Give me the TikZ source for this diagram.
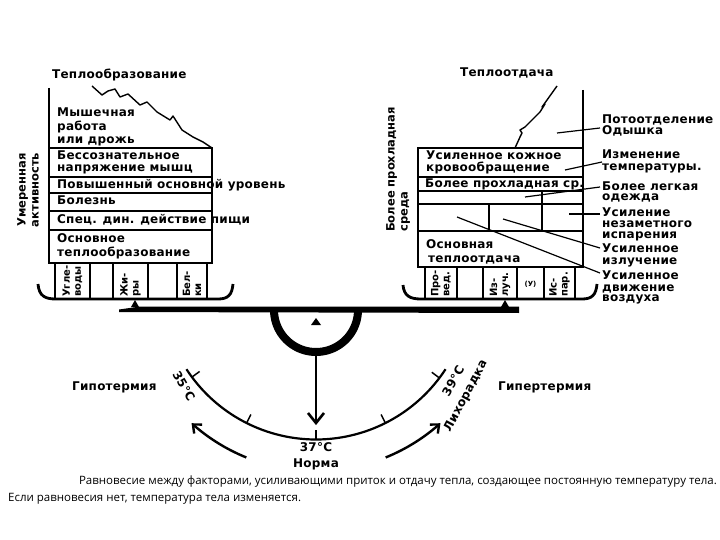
\documentclass[tikz,border=0pt]{standalone}
\usepackage{fontspec}
\setmainfont{DejaVu Sans}
\newfontfamily\capfont{Open Sans}
\usetikzlibrary{arrows.meta}
\begin{document}
\begin{tikzpicture}[x=1pt,y=-1pt,
  frame/.style={line width=1.6pt},
  leader/.style={line width=1.2pt},
  txt/.style={font=\bfseries\fontsize{12}{13}\selectfont\addfontfeature{LetterSpace=2}, inner sep=0pt, anchor=base west},
  coltxt/.style={font=\bfseries\fontsize{10}{11}\selectfont, inner sep=0pt, rotate=90, anchor=west, align=left},
  side/.style={font=\bfseries\fontsize{11.5}{13}\selectfont, inner sep=0pt, rotate=90},
  bracket/.style={line width=2.8pt},
  capt/.style={font=\capfont\fontsize{11.5}{13}\selectfont, inner sep=0pt}
]
\useasboundingbox (0,0) rectangle (720,540);

% ---------------- left pan ----------------
\node[txt] (tlh) at (52,79) {Теплообразование};
\draw[frame] (49,88) -- (49,263) -- (212,263) -- (212,148) -- (49,148);
\foreach \y in {177,193,211,230} \draw[frame] (49,\y) -- (212,\y);
\draw[line width=1.4pt, line join=round] (92,86) -- (102,95) -- (108,91) -- (115,89) -- (120,97) -- (128,94) -- (140,105) -- (147,102) -- (157,112) -- (170,120) -- (173,116) -- (182,130) -- (193,137) -- (203,142) -- (212,148);
\node[txt] (l1a) at (57,117) {Мышечная};
\node[txt] (l1b) at (57,131) {работа};
\node[txt] (l1c) at (57,144) {или дрожь};
\node[txt] (l2a) at (57,160) {Бессознательное};
\node[txt] (l2b) at (57,172) {напряжение  мышц};
\node[txt] (l3) at (57,189) {Повышенный основной уровень};
\node[txt] (l4) at (57,205) {Болезнь};
\node[txt] (l5) at (57,223) {Спец. дин. действие пищи};
\node[txt] (l6a) at (57,242) {Основное};
\node[txt] (l6b) at (57,256) {теплообразование};
\foreach \a/\b in {55/90,90/113,113/148,148/177,177/207} \draw[frame] (\a,263) rectangle (\b,299);
\node[coltxt] (c1) at (72.5,297) {Угле-\\воды};
\node[coltxt] (c2) at (130.5,297) {Жи-\\ры};
\node[coltxt] (c3) at (192,297) {Бел-\\ки};
\draw[bracket] (38,284) .. controls (39,296) and (45,299) .. (56,299) -- (218,299) .. controls (228,299) and (232,295) .. (233,284);
\node[side, align=center] (sl) at (28,190) {Умеренная\\активность};

% ---------------- right pan ----------------
\node[txt] (trh) at (460,77) {Теплоотдача};
\draw[frame] (583,90) -- (583,267) -- (418,267) -- (418,148) -- (583,148);
\foreach \y in {177,191,204,231} \draw[frame] (418,\y) -- (583,\y);
\draw[frame] (542,191) -- (542,231);
\draw[frame] (489,204) -- (489,231);
\draw[line width=1.4pt, line join=round] (557,86) -- (542,107) -- (545,104) -- (540,112) -- (525,127) -- (520,130) -- (522,133) -- (520,137) -- (515,148);
\node[txt] (r1a) at (426,160) {Усиленное кожное};
\node[txt] (r1b) at (426,172) {кровообращение};
\node[txt] (r2) at (425,188) {Более прохладная ср.};
\node[txt] (r3a) at (426,248) {Основная};
\node[txt] (r3b) at (428,262) {теплоотдача};
\foreach \a/\b in {425/457,457/483,483/517,517/544,544/575} \draw[frame] (\a,267) rectangle (\b,299);
\node[coltxt] (d1) at (441,297) {Про-\\вед.};
\node[coltxt] (d2) at (500,297) {Из-\\луч.};
\node[font=\bfseries\fontsize{7}{8}\selectfont, inner sep=0pt] (d3) at (530.5,284) {(У)};
\node[coltxt] (d4) at (559.5,297) {Ис-\\пар.};
\draw[bracket] (403,285) .. controls (404,296) and (410,299) .. (421,299) -- (582,299) .. controls (592,299) and (596,295) .. (597,284);
\node[side, align=left, anchor=west] (sr) at (398,232) {Более прохладная\\среда};

% right labels and leaders
\node[txt] (p1a) at (602,124) {Потоотделение};
\node[txt] (p1b) at (602,135) {Одышка};
\node[txt] (p2a) at (602,159) {Изменение};
\node[txt] (p2b) at (602,171) {температуры.};
\node[txt] (p3a) at (602,191) {Более легкая};
\node[txt] (p3b) at (602,201) {одежда};
\node[txt] (p4a) at (602,216) {Усиление};
\node[txt] (p4b) at (602,227) {незаметного};
\node[txt] (p4c) at (602,238) {испарения};
\node[txt] (p5a) at (602,252) {Усиленное};
\node[txt] (p5b) at (602,264) {излучение};
\node[txt] (p6a) at (602,279) {Усиленное};
\node[txt] (p6b) at (602,291) {движение};
\node[txt] (p6c) at (602,301) {воздуха};
\draw[leader] (557,133) -- (600,128);
\draw[leader] (565,170) -- (602,162);
\draw[leader] (525,197) -- (600,187);
\draw[leader] (569,214) -- (600,214);
\draw[leader] (503,219) -- (600,248);
\draw[leader] (457,217) -- (600,273);

% ---------------- beam ----------------
\fill (135,300) -- (131,307) -- (139,307) -- cycle;
\fill (505,300) -- (501,307) -- (509,307) -- cycle;
\fill (119,309.5) -- (140,306.5) -- (519,306.5) -- (519,313) -- (119,312) -- cycle;
\draw[line width=8pt] plot[domain=0:180,samples=50] ({316+42*cos(\x)},{310+42*sin(\x)});
\fill (316,318) -- (311,325) -- (321,325) -- cycle;
\draw[line width=2.6pt] (316,352) -- (316,422);
\draw[line width=2.6pt, line join=miter] (308,413) -- (316,423) -- (324,413);

% ---------------- gauge ----------------
\draw[line width=2.2pt] plot[domain=33:147,samples=90] ({316+154.5*cos(\x)},{285+154.5*sin(\x)});
\foreach \a in {37,63.3,90,116.7,143.4}
  \draw[line width=1.5pt] ({316+154.5*cos(\a)},{285+154.5*sin(\a)}) -- ({316+145*cos(\a)},{285+145*sin(\a)});
\draw[line width=2.4pt, -{Straight Barb[length=7pt,width=12pt]}] plot[domain=112:132,samples=20] ({316+186*cos(\x)},{285+186*sin(\x)});
\draw[line width=2.4pt, -{Straight Barb[length=7pt,width=12pt]}] plot[domain=68:48,samples=20] ({316+186*cos(\x)},{285+186*sin(\x)});
\node[txt] (hypo) at (72,390) {Гипотермия};
\node[txt] (hyper) at (498,390) {Гипертермия};
\node[txt, anchor=center] (t37) at (316,447) {37°C};
\node[txt, anchor=center] (norm) at (316,464) {Норма};
\node[txt, anchor=center, rotate=-60] (t35) at (184,386) {35°C};
\node[txt, anchor=center, rotate=60] (t39) at (453,381) {39°C};
\node[txt, anchor=center, rotate=62] (lih) at (466,396) {Лихорадка};

% ---------------- caption ----------------
\node[capt, anchor=base east] (cap1) at (717,484) {Равновесие между факторами, усиливающими приток и отдачу тепла, создающее постоянную температуру тела.};
\node[capt, anchor=base west] (cap2) at (8,501) {Если равновесия нет, температура тела изменяется.};
\end{tikzpicture}
\end{document}
